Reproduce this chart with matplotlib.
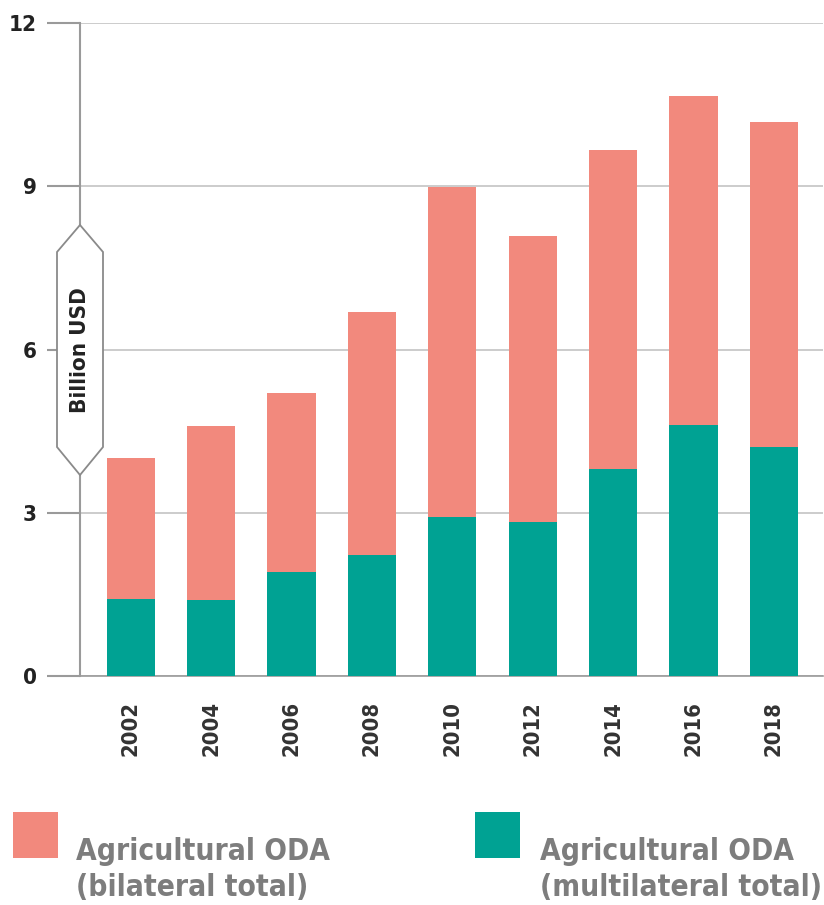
import matplotlib
matplotlib.use("Agg")
import matplotlib.pyplot as plt
import matplotlib.font_manager as fm
from matplotlib.patches import Polygon, Rectangle

years = ["2002", "2004", "2006", "2008", "2010", "2012", "2014", "2016", "2018"]
multilateral = [1.42, 1.40, 1.91, 2.22, 2.92, 2.83, 3.80, 4.61, 4.21]
bilateral = [2.58, 3.20, 3.29, 4.47, 6.07, 5.26, 5.87, 6.05, 5.97]
legend_labels = ["Agricultural ODA\n(bilateral total)", "Agricultural ODA\n(multilateral total)"]

pink = "#F2897D"
teal = "#00A293"


def weight_num(f):
    try:
        return int(f.weight)
    except (TypeError, ValueError):
        return fm.weight_dict.get(f.weight, 400)


# look for a narrow / condensed face, otherwise plain Liberation Sans bold
cands = []
for f in fm.fontManager.ttflist:
    n = f.fname.lower()
    if ("condensed" in n or "narrow" in n) and not any(k in n for k in ["italic", "oblique", "extra", "ultra", "semicond", "mono"]):
        cands.append(f)
cands.sort(key=lambda f: (abs(weight_num(f) - 650), f.fname))
if cands:
    fp = fm.FontProperties(fname=cands[0].fname)
else:
    fp = fm.FontProperties(family=["Liberation Sans", "DejaVu Sans"], weight="bold")

W, H = 824, 905
fig = plt.figure(figsize=(W / 100, H / 100), dpi=100)
ax = fig.add_axes([80 / W, 1 - 676 / H, (823 - 80) / W, (676 - 23) / H])

x = range(len(years))
ax.bar(x, multilateral, width=0.6, color=teal, zorder=3)
ax.bar(x, bilateral, width=0.6, bottom=multilateral, color=pink, zorder=3)

ax.set_xlim(-0.63, 8.61)
ax.set_ylim(0, 12)
ax.set_yticks([0, 3, 6, 9, 12])
ax.set_xticks(list(x))
ax.set_xticklabels(years)
ax.yaxis.grid(True, color="#c4c4c4", linewidth=1.2, zorder=0)
for s in ["top", "right"]:
    ax.spines[s].set_visible(False)
ax.spines["left"].set_color("#9a9a9a")
ax.spines["left"].set_linewidth(1.5)
ax.spines["bottom"].set_color("#9a9a9a")
ax.spines["bottom"].set_linewidth(1.2)

ax.tick_params(axis="y", length=24, width=1.5, color="#9a9a9a", pad=7, labelcolor="#222222")
ax.tick_params(axis="x", length=0, pad=18, labelrotation=90, labelcolor="#333333")
for lab in ax.get_yticklabels() + ax.get_xticklabels():
    lab.set_fontproperties(fp)
for lab in ax.get_yticklabels():
    lab.set_fontsize(16)


def fc(px, py):
    return (px / W, 1 - py / H)


# y axis label in an arrow box on the spine
box = Polygon([fc(80, 225), fc(103, 252), fc(103, 447), fc(80, 475),
               fc(57, 447), fc(57, 252)], closed=True, transform=fig.transFigure,
              facecolor="white", edgecolor="#8a8a8a", linewidth=1.3, zorder=5)
fig.add_artist(box)
ylab = fig.text(*fc(80, 350), "Billion USD", rotation=90, ha="center", va="center",
                fontproperties=fp, color="#222222", zorder=6)

# legend
leg_texts = []
for col, lab, sx, tx in [(pink, legend_labels[0], 13, 76), (teal, legend_labels[1], 475, 540)]:
    fig.add_artist(Rectangle(fc(sx, 858), 45 / W, 46 / H, transform=fig.transFigure,
                             facecolor=col, edgecolor="none"))
    l1, l2 = lab.split("\n")
    t1 = fig.text(*fc(tx, 860), l1, ha="left", va="baseline", fontproperties=fp, color="#7d7d7d")
    t2 = fig.text(*fc(tx, 896), l2, ha="left", va="baseline", fontproperties=fp, color="#7d7d7d")
    leg_texts += [t1, t2]

# size the texts so they take the room they take in the picture
r = fig.canvas.get_renderer()


def fit(texts, ref, target, dim="w", cap=None):
    for t in texts:
        t.set_fontsize(20)
    bb = ref.get_window_extent(r)
    size = 20 * target / (bb.width if dim == "w" else bb.height)
    if cap:
        size = min(size, cap)
    for t in texts:
        t.set_fontsize(size)


fit(leg_texts, leg_texts[0], 254, "w", cap=28)
fit([ylab], ylab, 126, "h", cap=18)
fit(ax.get_xticklabels(), ax.get_xticklabels()[0], 55, "h", cap=19)

fig.savefig("out.png", dpi=100)
